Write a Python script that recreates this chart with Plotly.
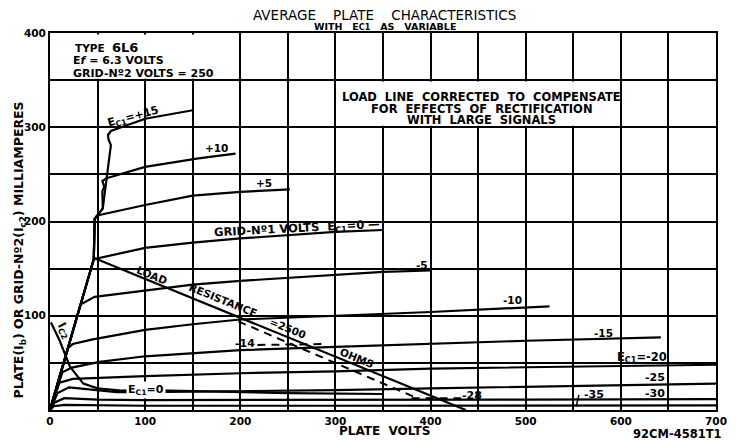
import plotly.graph_objects as go

# plate volts (x) and milliamperes (y)
ec1_p15_v = [0, 46, 47, 55.5, 64, 61.5, 61, 64, 100, 150]
ec1_p15_ma = [0, 160, 203, 214, 281, 287, 292, 296, 309, 318]
ec1_p10_v = [0, 46, 47, 55.5, 55, 57, 55, 59.5, 100, 156, 195]
ec1_p10_ma = [0, 160, 203, 214, 232, 237, 243, 246, 258, 267, 272]
ec1_p5_v = [0, 46, 47, 52, 100, 150, 200, 252]
ec1_p5_ma = [0, 160, 203, 207, 217.5, 227.5, 231.5, 234]
ec1_0_v = [0, 46, 100, 150, 200, 250, 300, 350]
ec1_0_ma = [0, 160, 172, 177.5, 182, 185.5, 189, 191]
ec1_m5_v = [0, 32, 47, 100, 150, 200, 250, 300, 350, 400]
ec1_m5_ma = [0, 112, 120, 127, 133, 137, 140, 143, 146.5, 148]
ec1_m10_v = [0, 19, 24, 45, 100, 150, 200, 300, 400, 525]
ec1_m10_ma = [0, 66, 70, 75, 85, 91, 96, 100, 104, 110]
ec1_m15_v = [0, 13, 23, 52, 100, 150, 200, 300, 400, 500, 642]
ec1_m15_ma = [0, 40, 45, 51, 57, 60.5, 63.5, 67, 70.5, 73.5, 77]
ec1_m20_v = [0, 10, 24, 100, 200, 300, 400, 550, 700]
ec1_m20_ma = [0, 29, 33, 36, 39, 41, 44, 46, 48]
ec1_m25_v = [0, 8, 20, 40, 70, 100, 200, 300, 400, 550, 700]
ec1_m25_ma = [0, 18, 24, 22, 19, 19, 20, 21, 23, 25.5, 28]
ec1_m30_v = [0, 5, 15, 50, 100, 300, 500, 700]
ec1_m30_ma = [0, 8, 12.5, 11, 10.5, 10.5, 11, 11.5]
ec1_m35_v = [0, 4, 15, 100, 300, 550, 700]
ec1_m35_ma = [0, 4, 5.5, 4.5, 4.5, 5, 5]
ic2_v = [1, 10, 21, 35, 50, 75, 100, 150, 250, 350]
ic2_ma = [93, 74, 46, 28, 23, 20.5, 21, 20, 18, 17]

load_v = [47, 437]
load_ma = [161, 0]
load_dash_v = [198, 385]
load_dash_ma = [94, 13]
ec1_m14_v = [218, 290]
ec1_m14_ma = [69, 70]
ec1_m28_v = [380, 432]
ec1_m28_ma = [12.5, 12.5]
m35_leader_v = [556, 553]
m35_leader_ma = [16, 4]

x_ticks = [0, 100, 200, 300, 400, 500, 600, 700]
x_labels = ["0", "100", "200", "300", "400", "500", "600", "700"]
y_ticks = [100, 200, 300, 400]
y_labels = ["100", "200", "300", "400"]

FONT = "DejaVu Sans"

fig = go.Figure()

solid = [
    (ec1_p15_v, ec1_p15_ma), (ec1_p10_v, ec1_p10_ma), (ec1_p5_v, ec1_p5_ma),
    (ec1_0_v, ec1_0_ma), (ec1_m5_v, ec1_m5_ma), (ec1_m10_v, ec1_m10_ma),
    (ec1_m15_v, ec1_m15_ma), (ec1_m20_v, ec1_m20_ma), (ec1_m25_v, ec1_m25_ma),
    (ec1_m30_v, ec1_m30_ma), (ec1_m35_v, ec1_m35_ma), (ic2_v, ic2_ma),
    (load_v, load_ma),
]
for xs, ys in solid:
    fig.add_trace(go.Scatter(x=xs, y=ys, mode="lines", line=dict(color="black", width=2.2)))

fig.add_trace(go.Scatter(x=m35_leader_v, y=m35_leader_ma, mode="lines", line=dict(color="black", width=1.5)))

for xs, ys in [(load_dash_v, load_dash_ma), (ec1_m14_v, ec1_m14_ma), (ec1_m28_v, ec1_m28_ma)]:
    fig.add_trace(go.Scatter(x=xs, y=ys, mode="lines", line=dict(color="black", width=2, dash="8px,6px")))

# white boxes hiding the grid behind the notes
fig.add_shape(type="rect", x0=1, x1=172, y0=351.5, y1=398.5, fillcolor="white", line_width=0, layer="between")
fig.add_shape(type="rect", x0=302, x1=598, y0=301.5, y1=348.5, fillcolor="white", line_width=0, layer="between")


def note(text, x, y, size=10, angle=0, **kw):
    kw.setdefault("xanchor", "center")
    fig.add_annotation(text=text, x=x, y=y, showarrow=False, textangle=angle, yanchor="middle",
                       font=dict(family=FONT, size=size, color="black"), **kw)


note("<b>TYPE  <span style='font-size:13px'>6L6</span></b>", 24, 384.5, size=10.5, xanchor="left")
note("<b>E<i>f</i> = 6.3 VOLTS</b>", 22, 370.5, size=11, xanchor="left")
note("<b>GRID-Nº2 VOLTS = 250</b>", 22, 357.5, size=11, xanchor="left")

note("<b>LOAD  LINE  CORRECTED  TO  COMPENSATE</b>", 454, 332, size=11.5)
note("<b>FOR  EFFECTS  OF  RECTIFICATION</b>", 454, 319.5, size=11.5)
note("<b>WITH  LARGE  SIGNALS</b>", 454, 307.5, size=11.5)

note("<b>E<sub>C1</sub>=+15</b>", 87, 311, size=11, angle=-15)
note("<b>+10</b>", 175, 278, size=10.5)
note("<b>+5</b>", 225, 241, size=10.5)
note("<b>GRID-Nº1 VOLTS  E<sub>C1</sub>=0 —</b>", 260, 193, size=11.5, angle=-3)
note("<b>-5</b>", 391, 154, size=10.5)
note("<b>-10</b>", 486, 117, size=10.5)
note("<b>-15</b>", 582, 82, size=10.5)
note("<b>E<sub>C1</sub>=-20</b>", 622, 56, size=11.5)
note("<b>-25</b>", 636, 34, size=11)
note("<b>-30</b>", 636, 18, size=11)
note("<b>-35</b>", 572, 16, size=11)
note("<b>-28</b>", 444, 15, size=11)
note("<b>-14</b>", 205, 71, size=11)
note("<b>LOAD</b>", 107, 143, size=10.5, angle=22)
note("<b>RESISTANCE</b>", 182, 117, size=10.5, angle=22)
note("<b>=2500</b>", 250, 87, size=10.5, angle=22)
note("<b>OHMS</b>", 323, 55, size=10.5, angle=22)
note("<b>I<sub>C2</sub></b>", 15, 84, size=11.5, angle=62)
note("<b>E<sub>C1</sub>=0</b>", 101, 21, size=11, bgcolor="white")

note("AVERAGE    PLATE    CHARACTERISTICS", 0.503, 1.0475, size=13.5, xref="paper", yref="paper")
note("<b>WITH   E<span style='font-size:8px'>C1</span>   AS   VARIABLE</b>", 0.503, 1.0165, size=9.5,
     xref="paper", yref="paper")
note("<b>PLATE(I<sub>b</sub>) OR GRID-Nº2(I<sub>c2</sub>) MILLIAMPERES</b>", -0.046, 0.424, size=12.5,
     angle=-90, xref="paper", yref="paper")
note("<b>PLATE  VOLTS</b>", 0.503, -0.057, size=12, xref="paper", yref="paper")
note("<b>92CM-4581T1</b>", 0.942, -0.063, size=11.5, xref="paper", yref="paper")

axis = dict(showline=True, linecolor="black", linewidth=2, mirror=True, showgrid=True,
            gridcolor="black", gridwidth=1.6, zeroline=False, ticks="",
            minor=dict(dtick=50, showgrid=True, gridcolor="black", gridwidth=1.6),
            tickfont=dict(family=FONT, size=10.5, color="black", weight="bold"))
fig.update_xaxes(range=[0, 700], tickvals=x_ticks, ticktext=x_labels, **axis)
fig.update_yaxes(range=[0, 400], tickvals=y_ticks, ticktext=y_labels, **axis)
# the page body keeps an 8px margin, so the figure is drawn 8px smaller and the margins shifted
fig.update_layout(width=731, height=432, margin=dict(l=42, r=17, t=25, b=30),
                  paper_bgcolor="white", plot_bgcolor="white", showlegend=False)

fig.write_html("out.html")
